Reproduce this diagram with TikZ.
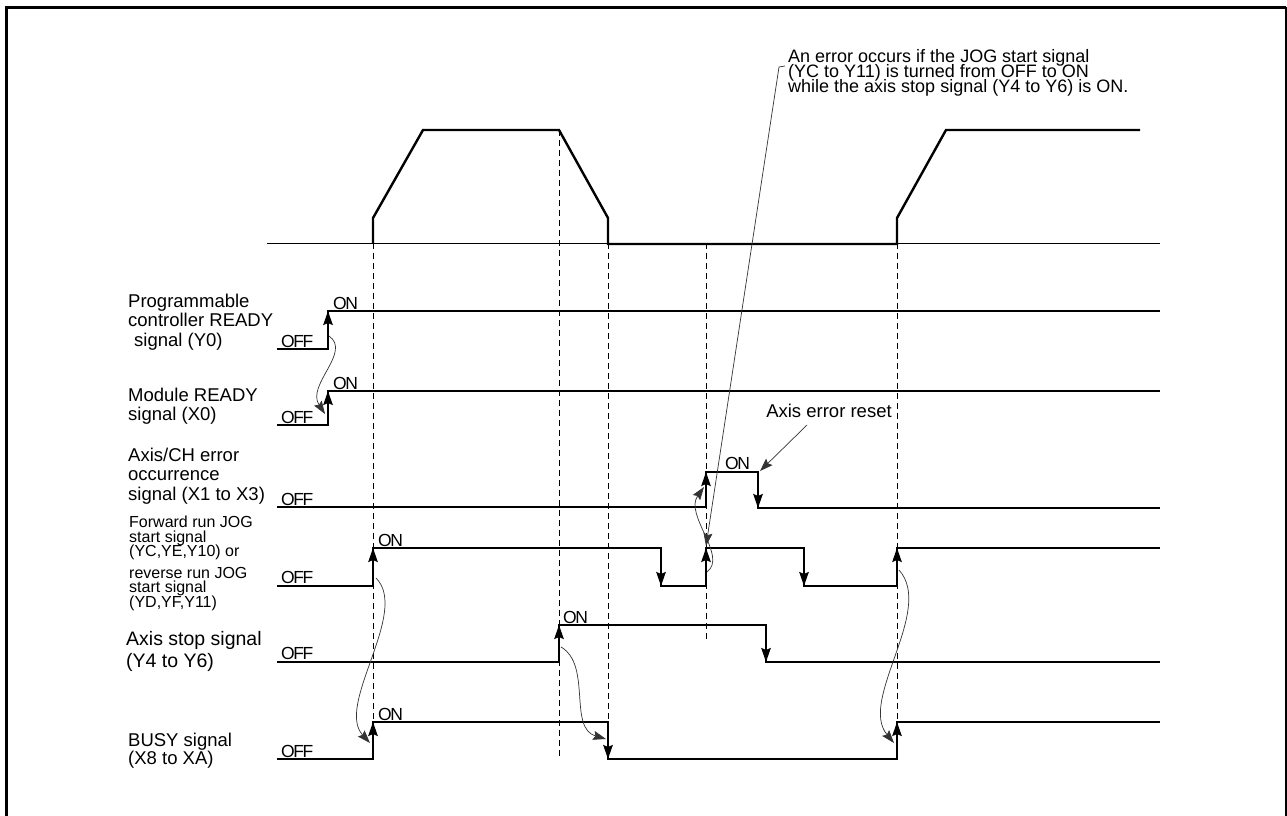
\documentclass[tikz,border=0pt]{standalone}
\usepackage{fontspec}
\setmainfont{Liberation Sans}
\newfontfamily\levelfont[LetterSpace=-8]{Liberation Sans}
\usetikzlibrary{arrows.meta}

\begin{document}
\begin{tikzpicture}[x=1pt,y=-1pt,
	wave/.style={line width=1.8pt,line join=miter},
	speed/.style={line width=2.4pt,line join=miter},
	guide/.style={line width=0.9pt,dash pattern=on 6pt off 4pt},
	cause/.style={line width=0.7pt,black!80,-{Stealth[length=13pt,width=9pt,inset=2pt]}},
	edge/.style={line width=1.8pt,-{Stealth[length=14pt,width=9.5pt,inset=2pt]}},
	level/.style={font=\levelfont\fontsize{17.5}{17.5}\selectfont,inner sep=0pt,anchor=base west},
	caption/.style={align=left,anchor=west,inner sep=0pt}]
	\useasboundingbox (0,0) rectangle (1287,816);
	\draw[line width=3pt,line join=miter] (6.5,816) to (6.5,7.5) to (1285.5,7.5);
	\draw[line width=2pt] (1285.5,7.5) to (1285.5,816);
	\draw[line width=0.9pt] (267,243) to (1160,243);
	\draw[speed] (373,243) -- (373,218) -- (423,130) -- (559,130) -- (608,218) -- (608,244) -- (897,244) -- (897,218) -- (946,130) -- (1140,130);
	\foreach \x/\ya/\yb in {373/243/722,559/130/759,608/243/722,706/243/642,897/243/722}
	{
	\draw[guide] (\x,\ya) to (\x,\yb);
	}
	\draw[wave] (277,349) -- (328,349) -- (328,311) -- (1160,311);
	\draw[wave] (277,425) -- (328,425) -- (328,391) -- (1160,391);
	\draw[wave] (277,507) -- (706,507) -- (706,472) -- (758,472) -- (758,508) -- (1160,508);
	\draw[wave] (277,586) -- (373,586) -- (373,548) -- (661,548) -- (661,586) -- (706,586) -- (706,548) -- (804,548) -- (804,586) -- (897,586) -- (897,548) -- (1160,548);
	\draw[wave] (277,662) -- (559,662) -- (559,625) -- (766,625) -- (766,662) -- (1160,662);
	\draw[wave] (277,759) -- (373,759) -- (373,722) -- (608,722) -- (608,759) -- (897,759) -- (897,722) -- (1160,722);
	\foreach \x/\ya/\yb in {328/349/311,328/425/391,706/507/472,758/472/508,373/586/548,661/548/586,706/586/548,804/548/586,897/586/548,559/662/625,766/625/662,373/759/722,608/722/759,897/759/722}
	{
	\draw[edge] (\x,\ya) to (\x,\yb);
	}
	\foreach \x/\y in {333/309,333/389,725/469,378/546,563/623,378/720}
	{
	\draw (\x,\y) node[level] (on\y) {ON};
	}
	\foreach \y in {347,423,505,583,659,757}
	{
	\draw (281,\y) node[level] (off\y) {OFF};
	}
	\draw (128,322) node[caption,font={\fontsize{18.5}{19.5}\selectfont\lineskiplimit=-20pt}] (plcready) {Programmable\\controller READY\\\hspace{6pt}signal (Y0)};
	\draw (128,406) node[caption,font={\fontsize{18.5}{19}\selectfont\lineskiplimit=-20pt}] (modready) {Module READY\\signal (X0)};
	\draw (128,476) node[caption,font={\fontsize{18.5}{19.5}\selectfont\lineskiplimit=-20pt}] (axiserr) {Axis/CH error\\occurrence\\signal (X1 to X3)};
	\draw (129,538) node[caption,font={\fontsize{16}{14.6}\selectfont\lineskiplimit=-20pt}] (fwdjog) {Forward run JOG\\start signal\\(YC,YE,Y10) or};
	\draw (129,589) node[caption,font={\fontsize{16}{14.6}\selectfont\lineskiplimit=-20pt}] (revjog) {reverse run JOG\\start signal\\(YD,YF,Y11)};
	\draw (126,651) node[caption,font={\fontsize{19.5}{22}\selectfont\lineskiplimit=-20pt}] (axisstop) {Axis stop signal\\(Y4 to Y6)};
	\draw (128,751) node[caption,font={\fontsize{18.5}{18}\selectfont\lineskiplimit=-20pt}] (busy) {BUSY signal\\(X8 to XA)};
	\draw (788,73) node[caption,font={\fontsize{18}{15}\selectfont\lineskiplimit=-20pt}] (jognote) {An error occurs if the JOG start signal\\(YC to Y11) is turned from OFF to ON\\while the axis stop signal (Y4 to Y6) is ON.};
	\draw (829,411) node[inner sep=0pt,font=\fontsize{18.5}{18}\selectfont] (errreset) {Axis error reset};
	\coordinate (notehook) at (785,66);
	\coordinate (jogrise) at (706,546);
	\coordinate (errfall) at (760,471);
	\draw[cause] (notehook) to (779,67) to (jogrise);
	\draw[cause] ([xshift=-22pt,yshift=-7pt]errreset.south) to (errfall);
	\draw[cause] (329,336) .. controls (352,352) and (306,385) .. (325,414);
	\draw[cause] (707,572) .. controls (728,556) and (684,515) .. (704,487);
	\draw[cause] (561,647) .. controls (592,665) and (568,728) .. (606,739);
	\draw[cause] (376,578) .. controls (410,612) and (335,705) .. (370,743);
	\draw[cause] (899,570) .. controls (935,610) and (858,700) .. (894,743);
\end{tikzpicture}
\end{document}
